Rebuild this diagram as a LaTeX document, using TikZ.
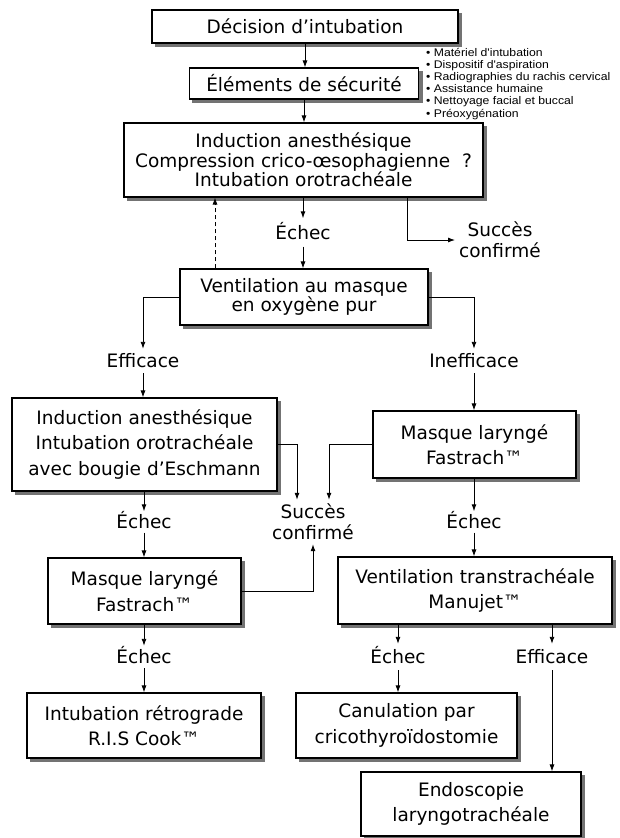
\documentclass[tikz,border=0pt]{standalone}
\usepackage{fontspec}
\setmainfont{DejaVu Sans}
\newfontfamily\checkfont[FakeStretch=1.1]{Liberation Sans}
\usetikzlibrary{arrows.meta,calc,backgrounds}

\definecolor{shadowgray}{gray}{0.45}

\begin{document}
\begin{tikzpicture}[x=1pt,y=-1pt,
  box/.style={draw, line width=1.1pt, fill=white, align=center, inner sep=0pt,
    font=\fontsize{18.5pt}{25.5pt}\selectfont},
  tight/.style={font=\fontsize{18.5pt}{19.5pt}\selectfont},
  lab/.style={inner sep=0pt, align=center, font=\fontsize{18.5pt}{22pt}\selectfont,
    text height=13.5pt, text depth=0pt, minimum height=24pt},
  item/.style={anchor=base west, inner sep=0pt},
  arr/.style={-{Latex[length=7pt,width=5pt]}, line width=0.9pt},
  dashline/.style={dashed, dash pattern=on 4pt off 3pt}]

\useasboundingbox (0,0) rectangle (619,838);

% boxes
\node[box, minimum width=306, minimum height=33] (b1) at (305,26.5) {Décision d’intubation};
\node[box, minimum width=229, minimum height=31] (b2) at (304,83.5) {Éléments de sécurité};
\node[box, tight, minimum width=359, minimum height=74] (b3) at (303.5,160)
  {Induction anesthésique\\Compression crico-œsophagienne~~?\\Intubation orotrachéale};
\node[box, tight, minimum width=248, minimum height=56] (b4) at (304,297)
  {Ventilation au masque\\en oxygène pur};
\node[box, minimum width=265, minimum height=93] (b5) at (144.5,444.5)
  {Induction anesthésique\\Intubation orotrachéale\\avec bougie d’Eschmann};
\node[box, minimum width=203, minimum height=67] (b6) at (474.5,444.5)
  {Masque laryngé\\Fastrach™};
\node[box, minimum width=193, minimum height=66] (b7) at (144.5,591)
  {Masque laryngé\\Fastrach™};
\node[box, minimum width=234, minimum height=65] (b8) at (144,725.5)
  {Intubation rétrograde\\R.I.S Cook™};
\node[box, minimum width=274, minimum height=67] (b9) at (475,590.5)
  {Ventilation transtrachéale\\Manujet™};
\node[box, minimum width=221, minimum height=65] (b10) at (406.5,725.5)
  {Canulation par\\cricothyroïdostomie};
\node[box, minimum width=220, minimum height=64] (b11) at (471,804)
  {Endoscopie\\laryngotrachéale};

% grey offset shadows behind the boxes
\begin{scope}[on background layer]
  \foreach \n in {b1,b2,b3,b4,b5,b6,b7,b8,b9,b10,b11}
    \fill[shadowgray] ($(\n.north west)+(3.5,3.5)$) rectangle ($(\n.south east)+(3.5,3.5)$);
\end{scope}

% checklist beside the safety box
\foreach \t [count=\i] in {Matériel d'intubation, Dispositif d'aspiration,
    Radiographies du rachis cervical, Assistance humaine,
    Nettoyage facial et buccal, Préoxygénation}
  \node[item] (l\i) at (426,{56.5+12.1*(\i-1)})
    {\checkfont\fontsize{11.1pt}{12pt}\selectfont • \t};

% branch labels
\node[lab, minimum height=28] (e1) at (303,232.5) {Échec};
\node[inner sep=4pt, align=center, font=\fontsize{18.5pt}{21pt}\selectfont] (s1) at (500,240) {Succès\\confirmé};
\node[lab] (ef1) at (143,361) {Efficace};
\node[lab] (in1) at (474,361) {Inefficace};
\node[inner sep=4pt, align=center, font=\fontsize{18.5pt}{21pt}\selectfont] (s2) at (313,522) {Succès\\confirmé};
\node[lab, minimum height=21] (e2) at (144,522) {Échec};
\node[lab, minimum height=21] (e3) at (474,522) {Échec};
\node[lab, minimum height=22] (e4) at (144,657) {Échec};
\node[lab, minimum height=26] (e5) at (398,657) {Échec};
\node[lab, minimum height=26] (ef2) at (552,657) {Efficace};

% helper abscissae
\coordinate (dd) at (215,0);
\coordinate (ss) at (407,0);
\coordinate (sl) at (297,0);
\coordinate (sr) at (329,0);

% connectors
\draw[arr] (b1.south) -- (b1.south |- b2.north);
\draw[arr] (b2.south) -- (b2.south |- b3.north);
\draw[arr] (b3.south -| e1) -- (e1);
\draw[arr] (e1) -- (b4.north -| e1);
\draw[arr, dashline] (b4.north -| dd) -- (b3.south -| dd);
\draw[arr] (b3.south -| ss) |- (s1);
\draw[arr] (b4.west) -| (ef1);
\draw[arr] (ef1) -- (b5.north -| ef1);
\draw[arr] (b4.east) -| (in1);
\draw[arr] (in1) -- (b6.north -| in1);
\draw[arr] (b5.east) -| (sl |- s2.north);
\draw[arr] (b6.west) -| (sr |- s2.north);
\draw[arr] (b7.east) -| (s2);
\draw[arr] (b5.south -| e2) -- (e2);
\draw[arr] (e2) -- (b7.north -| e2);
\draw[arr] (b6.south -| e3) -- (e3);
\draw[arr] (e3) -- (b9.north -| e3);
\draw[arr] (b7.south -| e4) -- (e4);
\draw[arr] (e4) -- (b8.north -| e4);
\draw[arr] (b9.south -| e5) -- (e5);
\draw[arr] (e5) -- (b10.north -| e5);
\draw[arr] (b9.south -| ef2) -- (ef2);
\draw[arr] (ef2) -- (b11.north -| ef2);
\end{tikzpicture}
\end{document}
